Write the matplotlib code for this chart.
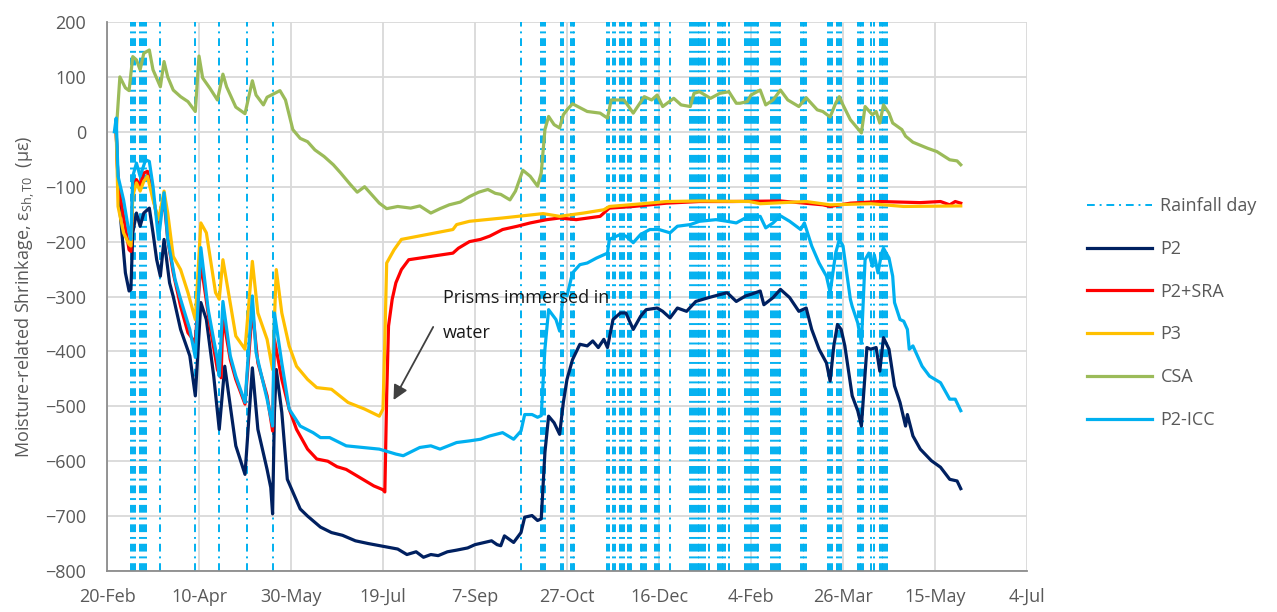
import pandas as pd
import matplotlib.pyplot as plt

plt.rcParams["font.family"] = ["Open Sans", "DejaVu Sans"]

start = pd.Timestamp("2020-02-20")

# rainfall days (days after 20-Feb-2020)
rain_days = [13, 14, 15, 18, 19, 20, 21, 29, 48, 61, 76, 90,
             225, 236, 237, 238, 247, 248, 252, 253, 254, 272, 273, 275, 276,
             279, 280, 281, 283, 284, 285, 290, 291, 292, 293, 298, 299, 300, 306,
             317, 318, 319, 320, 321, 322, 323, 324, 325, 327, 332, 333, 334, 335, 336, 338,
             347, 348, 349, 350, 351, 352, 353, 354, 361, 362, 363, 364, 365, 366,
             377, 378, 379, 380, 392, 393, 394, 397, 398, 399, 408, 409, 410, 411,
             415, 417, 420, 421, 422, 423, 424]

p2_days = [5, 6, 7, 10, 12, 13, 14, 16, 18, 20, 23, 25, 27, 29, 31, 34, 36, 40, 45, 48, 51,
           54, 58, 61, 64, 67, 70, 75, 79, 82, 87, 89, 90, 91, 92, 95, 98, 105, 109, 116,
           122, 128, 135, 142, 150, 158, 163, 168, 172, 176, 180, 185, 190, 196, 200, 205,
           209, 212, 214, 216, 221, 225, 227, 231, 234, 236, 238, 240, 243, 246, 248, 250,
           253, 257, 261, 264, 267, 270, 272, 275, 279, 282, 286, 290, 293, 299, 302, 306,
           310, 315, 320, 327, 337, 342, 347, 350, 355, 357, 362, 366, 371, 376, 380, 383,
           387, 391, 393, 395, 397, 399, 401, 405, 408, 410, 413, 415, 418, 420, 422, 425,
           428, 431, 434, 435, 438, 442, 448, 453, 458, 462, 464]
p2_vals = [0, -90, -142, -257, -290, -287, -184, -148, -172, -148, -139, -184, -233, -263, -196,
           -275, -300, -360, -408, -481, -311, -342, -445, -542, -427, -499, -572, -624, -430,
           -542, -615, -648, -696, -511, -433, -511, -633, -687, -700, -720,
           -730, -735, -745, -750, -755, -760, -770, -765, -775, -770, -772, -765, -762, -758,
           -752, -748, -745, -752, -754, -736, -748, -730, -702, -699, -708, -705, -584, -518,
           -530, -551, -493, -451, -415, -387, -390, -381, -393, -378, -393, -342, -330, -330,
           -360, -336, -324, -321, -327, -339, -321, -327, -309, -302, -293, -309, -299, -296,
           -290, -315, -302, -287, -302, -327, -321, -360, -396, -421, -454, -390, -351, -360,
           -390, -481, -508, -536, -393, -396, -393, -436, -375, -396, -463, -493, -536, -515,
           -554, -578, -599, -611, -633, -636, -650]

sra_days = [5, 6, 9, 12, 13, 14, 16, 18, 20, 22, 25, 28, 31, 33, 36, 40, 44, 48, 51, 56, 60,
            62, 63, 67, 70, 75, 79, 82, 87, 90, 91, 95, 99, 103, 109, 114, 120, 125, 130, 135,
            140, 145, 150, 151, 152, 153, 155, 157, 160, 164, 176, 188, 191, 197, 203, 208,
            215, 223, 230, 239, 246, 255, 268, 273, 286, 295, 304, 322, 340, 366, 389, 393,
            404, 420, 442, 453, 458, 461, 464]
sra_vals = [0, -93, -154, -215, -218, -105, -87, -99, -75, -72, -117, -172, -124, -196, -257,
            -318, -366, -384, -239, -354, -433, -448, -336, -415, -451, -496, -324, -421, -481,
            -545, -378, -451, -505, -542, -578, -596, -600, -610, -615, -625, -635, -645, -652,
            -656, -480, -354, -305, -275, -251, -233, -227, -221, -212, -200, -196, -190, -178,
            -172, -166, -160, -157, -160, -154, -139, -136, -133, -130, -127, -127, -126, -133,
            -136, -130, -127, -129, -127, -133, -127, -130]

p3_days = [5, 6, 9, 12, 13, 14, 16, 18, 20, 22, 25, 28, 31, 33, 36, 40, 44, 48, 51, 54, 59, 61,
           63, 70, 75, 79, 82, 87, 90, 92, 95, 99, 103, 109, 114, 122, 131, 140, 148, 150, 151,
           152, 153, 156, 160, 174, 188, 190, 197, 206, 215, 226, 237, 246, 259, 270, 273, 291,
           304, 322, 349, 355, 380, 393, 415, 433, 464]
p3_vals = [0, -136, -184, -205, -208, -117, -93, -108, -90, -81, -124, -160, -108, -148, -227,
           -251, -293, -342, -166, -184, -293, -305, -233, -372, -396, -236, -330, -378, -433,
           -251, -330, -390, -427, -451, -466, -469, -493, -505, -518, -505, -380, -239, -233,
           -215, -196, -187, -178, -169, -163, -160, -157, -153, -149, -154, -148, -142, -136,
           -131, -127, -126, -127, -131, -127, -133, -131, -136, -135]

csa_days = [5, 7, 10, 12, 14, 16, 18, 20, 23, 25, 29, 31, 33, 36, 40, 44, 48, 50, 52, 56, 60,
            63, 65, 70, 75, 79, 81, 85, 87, 94, 97, 101, 105, 109, 113, 118, 123, 127, 132, 136,
            140, 144, 148, 152, 158, 165, 170, 176, 181, 186, 192, 197, 202, 207, 211, 214, 219,
            222, 226, 230, 234, 236, 238, 240, 243, 246, 248, 250, 253, 261, 268, 272, 274, 281,
            286, 292, 296, 299, 302, 308, 312, 317, 319, 322, 328, 333, 338, 342, 344, 348, 350,
            355, 358, 362, 366, 370, 376, 380, 386, 389, 393, 396, 398, 400, 404, 407, 410, 412,
            416, 418, 420, 422, 425, 427, 432, 434, 438, 446, 451, 458, 462, 464]
csa_vals = [0, 100, 80, 75, 137, 131, 113, 143, 149, 113, 82, 128, 100, 76, 64, 55, 37, 138, 98,
            79, 58, 105, 82, 45, 33, 93, 67, 49, 63, 75, 58, 4, -12, -18, -33, -45, -60, -75,
            -95, -110, -100, -115, -130, -140, -136, -139, -135, -148, -140, -133, -128, -118,
            -110, -105, -112, -114, -124, -108, -70, -81, -99, -75, 4, 28, 13, 7, 31, 40, 51, 37,
            34, 25, 58, 58, 34, 64, 58, 67, 46, 61, 49, 46, 70, 73, 61, 70, 73, 52, 52, 55, 67,
            76, 49, 58, 76, 58, 46, 62, 40, 37, 27, 52, 64, 49, 22, 10, -2, 46, 31, 37, 16, 49,
            34, 16, 4, -8, -19, -30, -36, -51, -53, -60]

icc_days = [4, 5, 6, 9, 12, 13, 14, 16, 18, 21, 23, 25, 28, 31, 33, 37, 40, 45, 48, 51, 55, 60,
            61, 63, 67, 70, 75, 79, 81, 87, 90, 91, 95, 99, 105, 112, 116, 121, 130, 139, 148,
            157, 161, 170, 176, 181, 190, 197, 203, 208, 215, 221, 225, 227, 231, 234, 236, 238,
            240, 244, 246, 248, 250, 253, 257, 261, 266, 272, 273, 279, 282, 286, 290, 295, 300,
            306, 310, 317, 322, 331, 337, 342, 348, 355, 358, 362, 366, 371, 377, 379, 383, 387,
            391, 393, 396, 398, 400, 404, 405, 408, 410, 412, 414, 416, 417, 419, 421, 422, 425,
            427, 428, 431, 433, 435, 436, 438, 443, 447, 453, 458, 461, 464]
icc_vals = [0, 25, -81, -124, -184, -196, -81, -57, -81, -51, -54, -99, -196, -111, -196, -269,
            -305, -360, -411, -211, -324, -415, -445, -309, -408, -445, -493, -299, -402, -487,
            -536, -330, -421, -505, -536, -548, -557, -557, -572, -575, -578, -587, -590, -575,
            -572, -578, -566, -563, -560, -554, -548, -560, -545, -515, -515, -520, -517, -396,
            -324, -342, -363, -293, -299, -257, -242, -239, -230, -221, -196, -187, -190, -202,
            -187, -178, -178, -184, -172, -169, -163, -160, -163, -166, -155, -154, -175, -166,
            -153, -163, -178, -166, -208, -239, -263, -293, -221, -196, -208, -305, -318, -348,
            -385, -233, -221, -245, -224, -257, -221, -212, -230, -263, -311, -342, -345, -360,
            -396, -390, -427, -445, -457, -487, -487, -508]

series = [
    ("P2", p2_days, p2_vals, "#002060"),
    ("P2+SRA", sra_days, sra_vals, "#ff0000"),
    ("P3", p3_days, p3_vals, "#ffc000"),
    ("CSA", csa_days, csa_vals, "#9bbb59"),
    ("P2-ICC", icc_days, icc_vals, "#00b0f0"),
]


def to_date(days):
    return start + pd.to_timedelta(days, unit="D")


fig = plt.figure(figsize=(12.77, 6.12), dpi=100)
ax = fig.add_axes([107 / 1277, 41 / 612, 920 / 1277, 549 / 612])

ax.vlines(to_date(rain_days), -800, 200, colors="#00b0f0", lw=1.4,
          linestyles=(0, (4, 2.5, 1, 2.5)), label="Rainfall day", zorder=2)

for name, d, v, c in series:
    ax.plot(to_date(d), v, color=c, lw=2.3, label=name, zorder=3)

# annotation
ax.annotate("", xy=(to_date(155), -493), xytext=(to_date(178), -351),
            arrowprops=dict(arrowstyle="-|>", color="#404040", lw=1.3,
                            mutation_scale=22), zorder=4)
ax.text(to_date(182.5), -302, "Prisms immersed in", fontsize=13,
        va="center", ha="left", color="#1a1a1a", zorder=4)
ax.text(to_date(182.5), -366, "water", fontsize=13,
        va="center", ha="left", color="#1a1a1a", zorder=4)

ticks = pd.date_range(start, periods=11, freq="50D")
ax.set_xticks(ticks)
ax.set_xticklabels([f"{t.day}-{t:%b}" for t in ticks])
ax.set_xlim(ticks[0], ticks[-1])
ax.set_ylim(-800, 200)
ax.set_yticks(range(-800, 201, 100))

ax.grid(True, color="#d9d9d9", lw=1.3)
ax.set_axisbelow(True)
for s in ["top", "right"]:
    ax.spines[s].set_visible(False)
for s in ["left", "bottom"]:
    ax.spines[s].set_color("#8c8c8c")
    ax.spines[s].set_linewidth(1.3)
ax.tick_params(length=0, labelsize=13, colors="#595959")
ax.tick_params(axis="x", pad=12)
ax.tick_params(axis="y", pad=15)

ax.set_ylabel(r"Moisture-related Shrinkage, $\mathregular{\varepsilon_{Sh,T0}}$  (µε)",
              fontsize=13, color="#595959", labelpad=6)

fig.legend(loc="upper left", bbox_to_anchor=(1071 / 1277, 1 - 181 / 612), frameon=False,
           fontsize=13, labelspacing=1.37, handlelength=3.6, handletextpad=0.45,
           labelcolor="#595959")

fig.savefig("out.png", dpi=100)
